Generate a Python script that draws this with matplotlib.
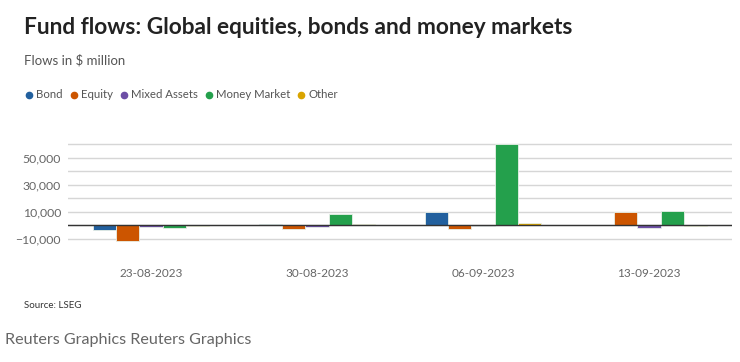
import numpy as np
import matplotlib.pyplot as plt
from matplotlib.lines import Line2D
from matplotlib.ticker import FixedLocator, FuncFormatter

plt.rcParams['font.family'] = ['Lato', 'DejaVu Sans']

# ====== Data (flows in $ million) ======
dates = ['23-08-2023', '30-08-2023', '06-09-2023', '13-09-2023']
series_names = ['Bond', 'Equity', 'Mixed Assets', 'Money Market', 'Other']
bond = [-3500, 700, 10000, 200]
equity = [-11400, -2700, -2500, 10100]
mixed_assets = [-1500, -1000, -700, -1700]
money_market = [-1700, 8600, 60500, 10900]
other = [-200, 700, 1500, -700]

colors = ['#22609e', '#cc5500', '#6d4fa6', '#24a04c', '#d9a400']
values = [bond, equity, mixed_assets, money_market, other]

# ====== Figure ======
fig = plt.figure(figsize=(7.4, 3.62), dpi=100)
# plot area: y from -18,000 (px 249.5) to 62,000 (px 141.8)
ax = fig.add_axes([68 / 740, 1 - 249.5 / 362, 664 / 740, 107.7 / 362])

x = np.arange(len(dates))
width = 0.139
for i, (name, vals, col) in enumerate(zip(series_names, values, colors)):
    offset = (i - 2) * width
    ax.bar(x + offset, vals, width, color=col, edgecolor='#e8f0e8',
           linewidth=0.6, label=name, zorder=3)

ax.set_xlim(-0.5, 3.5)
ax.set_ylim(-18000, 62000)
ax.axhline(0, color='#333333', linewidth=1.0, zorder=4)

major = [-10000, 10000, 30000, 50000]
minor = [0, 20000, 40000, 60000]
ax.yaxis.set_major_locator(FixedLocator(major))
ax.yaxis.set_minor_locator(FixedLocator(minor))
ax.yaxis.set_major_formatter(FuncFormatter(
    lambda v, p: f'{v:,.0f}'.replace('-', '\u2212')))
ax.grid(axis='y', which='both', color='#d6d6d6', linewidth=1.0, zorder=0)
ax.tick_params(axis='y', which='both', length=0, labelsize=8.8,
               labelcolor='#666666', pad=5)
ax.set_xticks(x)
ax.set_xticklabels(dates)
ax.tick_params(axis='x', length=0, labelsize=8.5, labelcolor='#666666', pad=13)
for s in ax.spines.values():
    s.set_visible(False)

# ====== Texts ======
fig.text(24 / 740, 1 - 28 / 362, 'Fund flows: Global equities, bonds and money markets',
         fontsize=16.3, fontweight='bold', color='#222222', va='center')
fig.text(24 / 740, 1 - 60 / 362, 'Flows in $ million', fontsize=9.5,
         color='#555555', va='center')

handles = [Line2D([], [], marker='o', linestyle='none', markersize=4.5,
                  color=c, label=n) for n, c in zip(series_names, colors)]
fig.legend(handles=handles, loc='center left', ncol=5,
           bbox_to_anchor=(14 / 740, 1 - 95 / 362), frameon=False,
           fontsize=8.2, handletextpad=0.25, columnspacing=0.55,
           labelcolor='#555555', handlelength=0.8)

fig.text(24 / 740, 1 - 306 / 362, 'Source: LSEG', fontsize=7,
         color='#333333', va='center')
fig.text(5 / 740, 1 - 340 / 362, 'Reuters Graphics Reuters Graphics',
         fontsize=11.6, color='#666666', va='center')

fig.savefig('out.png', dpi=100)
